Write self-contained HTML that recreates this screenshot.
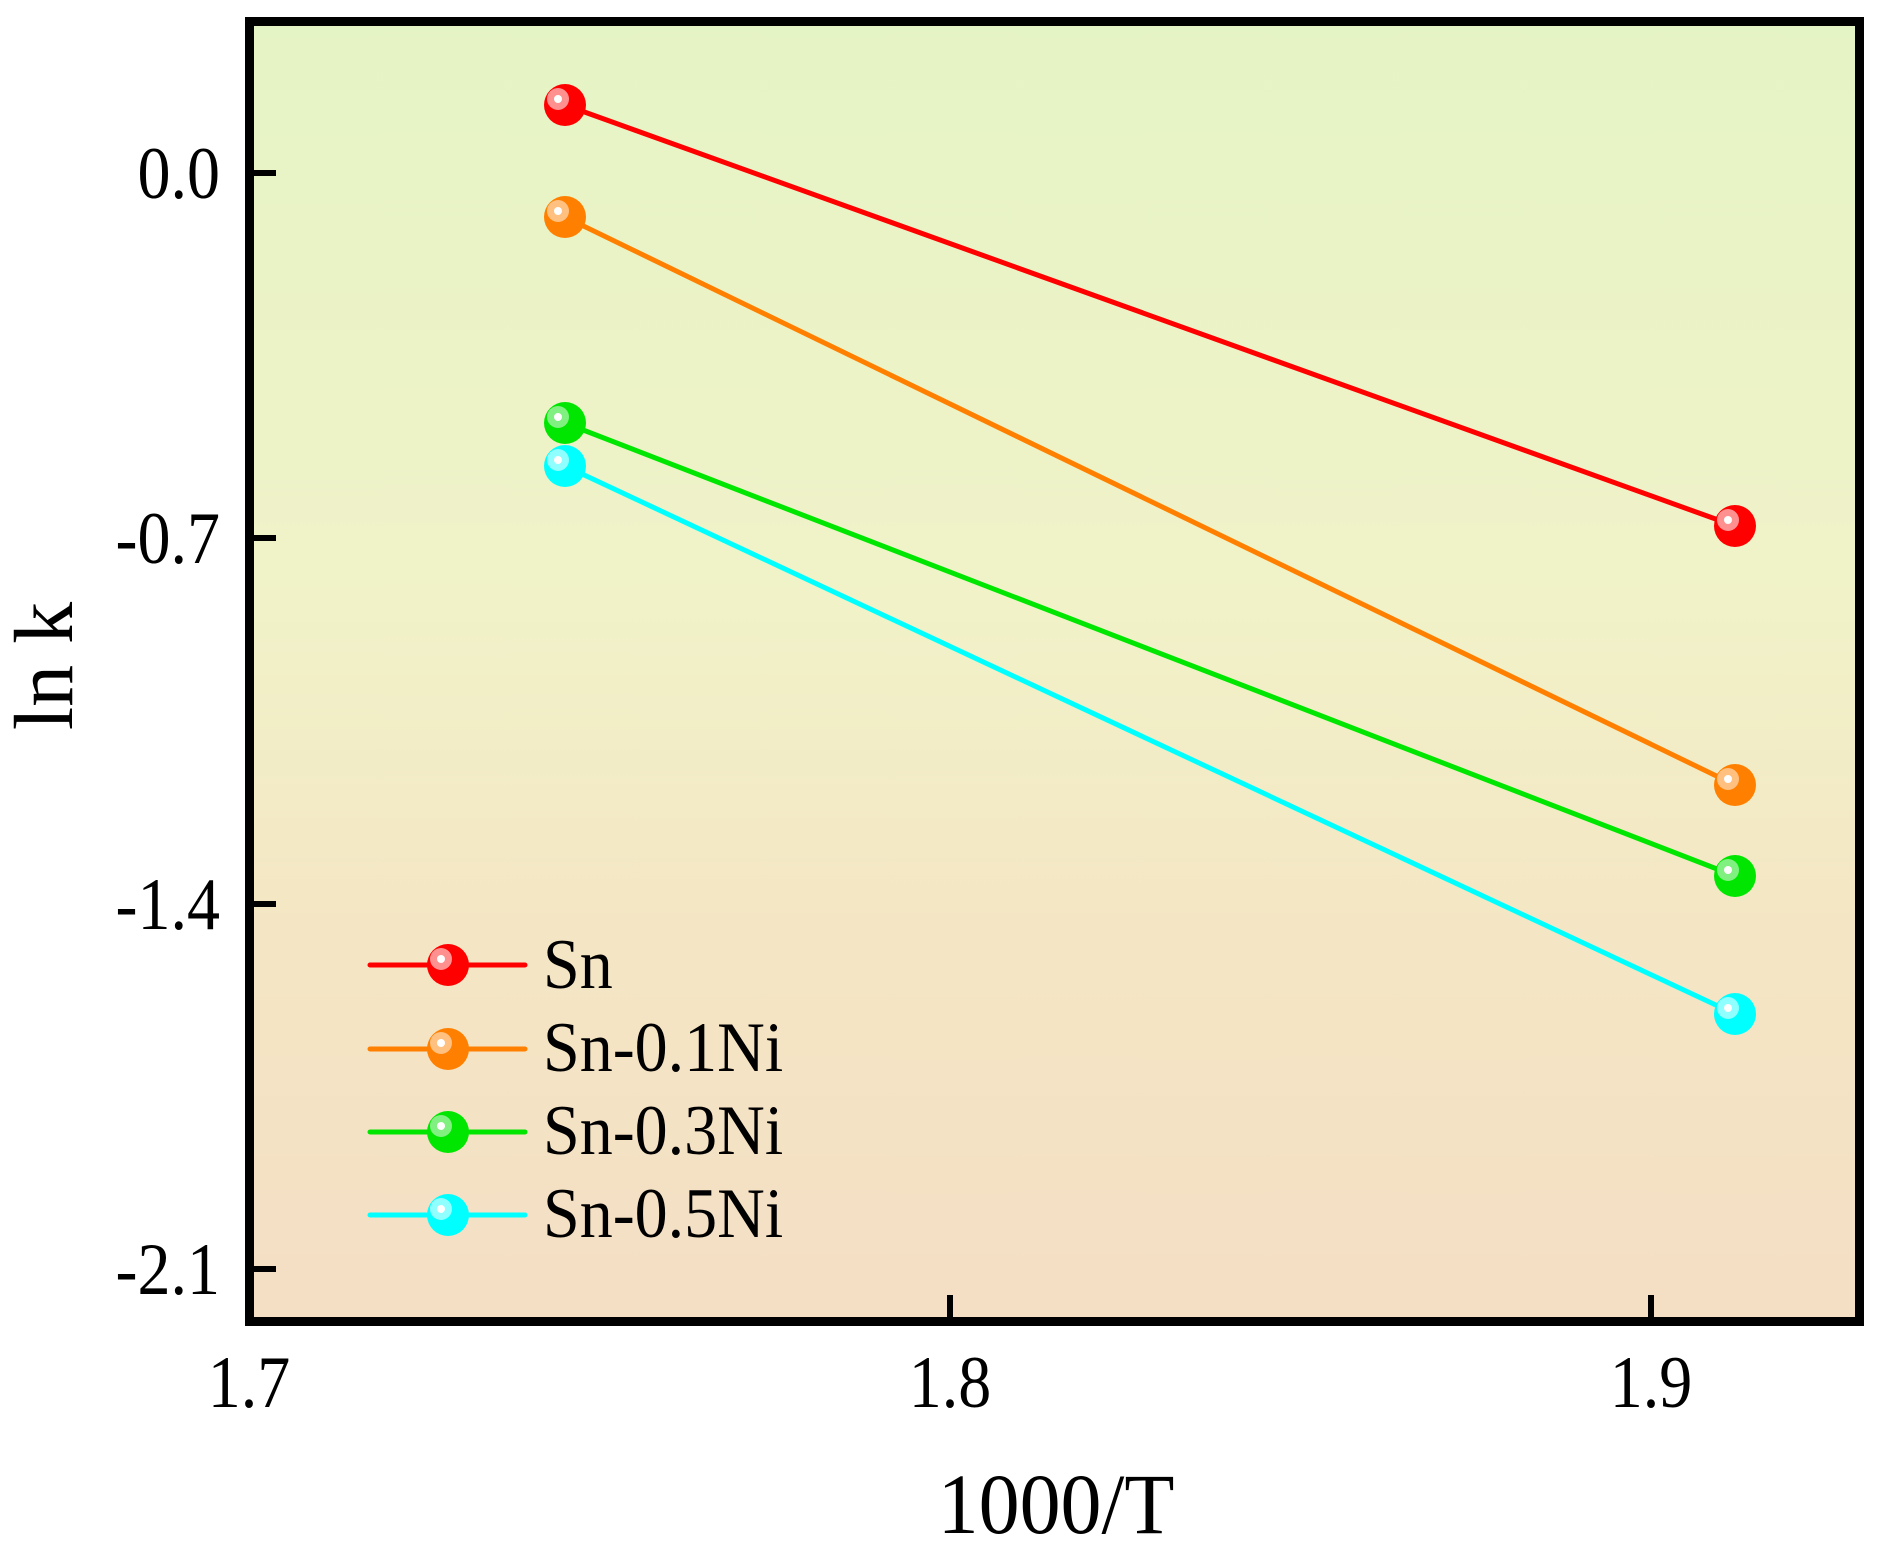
<!DOCTYPE html>
<html><head><meta charset="utf-8"><style>html,body{margin:0;padding:0;background:#fff}svg{display:block}</style></head>
<body>
<svg width="1878" height="1545" viewBox="0 0 1878 1545" xmlns="http://www.w3.org/2000/svg" font-family="'Liberation Serif', serif">
<defs>
<linearGradient id="bg" x1="0" y1="0" x2="0" y2="1">
<stop offset="0" stop-color="#e5f4c5"/>
<stop offset="0.45" stop-color="#f1f2c8"/>
<stop offset="0.7" stop-color="#f4e6c4"/>
<stop offset="1" stop-color="#f4dec4"/>
</linearGradient>
</defs>
<rect x="250" y="17" width="1610" height="1304" fill="url(#bg)"/>
<g stroke-width="5" stroke-linecap="round" fill="none">
<line x1="565" y1="105" x2="1735" y2="526" stroke="#ff0000"/>
<line x1="565" y1="217" x2="1735" y2="785" stroke="#ff8000"/>
<line x1="565" y1="423" x2="1735" y2="876" stroke="#00e600"/>
<line x1="565" y1="466" x2="1735" y2="1014" stroke="#00ffff"/>
<line x1="370" y1="965" x2="525" y2="965" stroke="#ff0000"/>
<line x1="370" y1="1049" x2="525" y2="1049" stroke="#ff8000"/>
<line x1="370" y1="1132" x2="525" y2="1132" stroke="#00e600"/>
<line x1="370" y1="1215" x2="525" y2="1215" stroke="#00ffff"/>
</g>
<g>
<g transform="translate(565,105)"><circle r="21" fill="#ff0000"/><circle cx="-7" cy="-6" r="11" fill="#ff9090"/><circle cx="-7" cy="-6" r="4" fill="#fff"/></g>
<g transform="translate(1735,526)"><circle r="21" fill="#ff0000"/><circle cx="-7" cy="-6" r="11" fill="#ff9090"/><circle cx="-7" cy="-6" r="4" fill="#fff"/></g>
<g transform="translate(448,965)"><circle r="21" fill="#ff0000"/><circle cx="-7" cy="-6" r="11" fill="#ff9090"/><circle cx="-7" cy="-6" r="4" fill="#fff"/></g>
<g transform="translate(565,217)"><circle r="21" fill="#ff8000"/><circle cx="-7" cy="-6" r="11" fill="#ffc080"/><circle cx="-7" cy="-6" r="4" fill="#fff"/></g>
<g transform="translate(1735,785)"><circle r="21" fill="#ff8000"/><circle cx="-7" cy="-6" r="11" fill="#ffc080"/><circle cx="-7" cy="-6" r="4" fill="#fff"/></g>
<g transform="translate(448,1049)"><circle r="21" fill="#ff8000"/><circle cx="-7" cy="-6" r="11" fill="#ffc080"/><circle cx="-7" cy="-6" r="4" fill="#fff"/></g>
<g transform="translate(565,423)"><circle r="21" fill="#00e600"/><circle cx="-7" cy="-6" r="11" fill="#80f080"/><circle cx="-7" cy="-6" r="4" fill="#fff"/></g>
<g transform="translate(1735,876)"><circle r="21" fill="#00e600"/><circle cx="-7" cy="-6" r="11" fill="#80f080"/><circle cx="-7" cy="-6" r="4" fill="#fff"/></g>
<g transform="translate(448,1132)"><circle r="21" fill="#00e600"/><circle cx="-7" cy="-6" r="11" fill="#80f080"/><circle cx="-7" cy="-6" r="4" fill="#fff"/></g>
<g transform="translate(565,466)"><circle r="21" fill="#00ffff"/><circle cx="-7" cy="-6" r="11" fill="#90ffff"/><circle cx="-7" cy="-6" r="4" fill="#fff"/></g>
<g transform="translate(1735,1014)"><circle r="21" fill="#00ffff"/><circle cx="-7" cy="-6" r="11" fill="#90ffff"/><circle cx="-7" cy="-6" r="4" fill="#fff"/></g>
<g transform="translate(448,1215)"><circle r="21" fill="#00ffff"/><circle cx="-7" cy="-6" r="11" fill="#90ffff"/><circle cx="-7" cy="-6" r="4" fill="#fff"/></g>
</g>
<rect x="249.5" y="21.5" width="1610" height="1300" fill="none" stroke="#000" stroke-width="9"/>
<g stroke="#000" stroke-width="6">
<line x1="254" y1="173" x2="276" y2="173"/>
<line x1="254" y1="538" x2="276" y2="538"/>
<line x1="254" y1="904" x2="276" y2="904"/>
<line x1="254" y1="1269" x2="276" y2="1269"/>
<line x1="950" y1="1317" x2="950" y2="1295"/>
<line x1="1651" y1="1317" x2="1651" y2="1295"/>
</g>
<g font-size="66" fill="#000">
<g text-anchor="end">
<text transform="translate(220,198) scale(1,1.12)">0.0</text>
<text transform="translate(220,563) scale(1,1.12)">-0.7</text>
<text transform="translate(220,929) scale(1,1.12)">-1.4</text>
<text transform="translate(220,1294) scale(1,1.12)">-2.1</text>
</g>
<g text-anchor="middle">
<text transform="translate(249,1407) scale(1,1.12)">1.7</text>
<text transform="translate(950,1407) scale(1,1.12)">1.8</text>
<text transform="translate(1651,1407) scale(1,1.12)">1.9</text>
</g>
<text transform="translate(543,988) scale(1,1.08)">Sn</text>
<text transform="translate(543,1071) scale(1,1.08)">Sn-0.1Ni</text>
<text transform="translate(543,1154) scale(1,1.08)">Sn-0.3Ni</text>
<text transform="translate(543,1237) scale(1,1.08)">Sn-0.5Ni</text>
</g>
<text transform="translate(1056,1533) scale(1,1.05)" font-size="82" text-anchor="middle">1000/T</text>
<text transform="translate(72,666) rotate(-90)" font-size="84" text-anchor="middle">ln k</text>
</svg>
</body></html>
